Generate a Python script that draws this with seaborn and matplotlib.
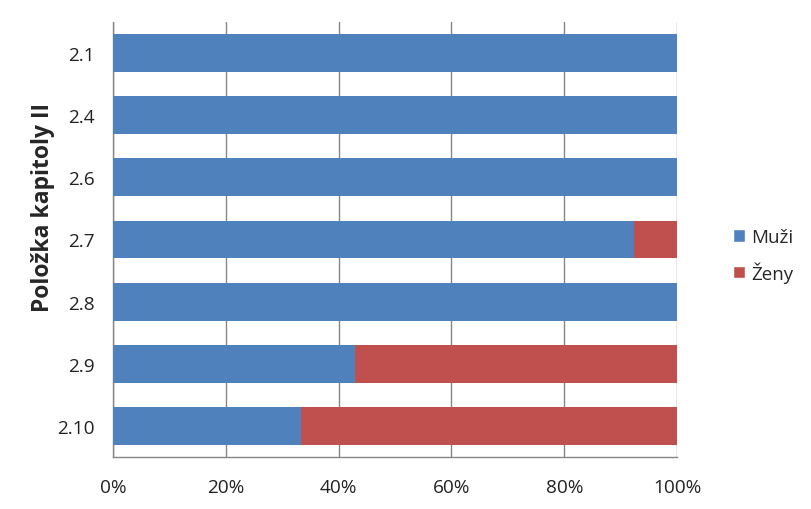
import pandas as pd
import matplotlib
matplotlib.use("Agg")
import matplotlib.pyplot as plt
from matplotlib.patches import Patch
import seaborn as sns

# data (percent share)
polozky = ["2.1", "2.4", "2.6", "2.7", "2.8", "2.9", "2.10"]
muzi = [100.0, 100.0, 100.0, 92.3, 100.0, 42.9, 33.3]
zeny = [0.0, 0.0, 0.0, 7.7, 0.0, 57.1, 66.7]

MODRA = "#4F81BD"
CERVENA = "#C0504D"


def main():
    df = pd.DataFrame({"polozka": polozky, "muzi": muzi, "zeny": zeny})
    df["celkem"] = df["muzi"] + df["zeny"]

    sns.set_style("white")
    plt.rcParams["font.family"] = ["Open Sans", "DejaVu Sans"]

    fig = plt.figure(figsize=(8.12, 5.10), dpi=100)
    ax = fig.add_axes([0.139, 0.102, 0.695, 0.853])

    # stacked: full bar in red, blue part drawn on top
    sns.barplot(data=df, y="polozka", x="celkem", color=CERVENA, orient="h",
                width=0.61, ax=ax, saturation=1, linewidth=0, zorder=3)
    sns.barplot(data=df, y="polozka", x="muzi", color=MODRA, orient="h",
                width=0.61, ax=ax, saturation=1, linewidth=0, zorder=4)

    ax.set_xlim(0, 100)
    ax.set_xticks([0, 20, 40, 60, 80, 100])
    ax.set_xticklabels([f"{v}%" for v in range(0, 101, 20)])
    ax.xaxis.grid(True, color="#868686", linewidth=1, zorder=0)
    ax.set_axisbelow(True)
    ax.tick_params(axis="both", length=0, labelsize=13.7, colors="#222222")
    ax.tick_params(axis="x", pad=15)
    ax.tick_params(axis="y", pad=13)

    ax.set_xlabel("")
    ax.set_ylabel("Položka kapitoly II", fontsize=16.5, fontweight="bold")
    ax.yaxis.set_label_coords(-0.103, 0.575)

    for side in ["top", "right"]:
        ax.spines[side].set_visible(False)
    for side in ["left", "bottom"]:
        ax.spines[side].set_color("#868686")
        ax.spines[side].set_linewidth(1)

    handles = [Patch(facecolor=MODRA, label="Muži"),
               Patch(facecolor=CERVENA, label="Ženy")]
    fig.legend(handles=handles, loc="center left", bbox_to_anchor=(0.903, 0.497),
               frameon=False, fontsize=13.5, handlelength=0.65, handleheight=0.65,
               handletextpad=0.3, labelspacing=0.8, borderpad=0, borderaxespad=0)

    fig.savefig("out.png", dpi=100)


if __name__ == "__main__":
    main()
